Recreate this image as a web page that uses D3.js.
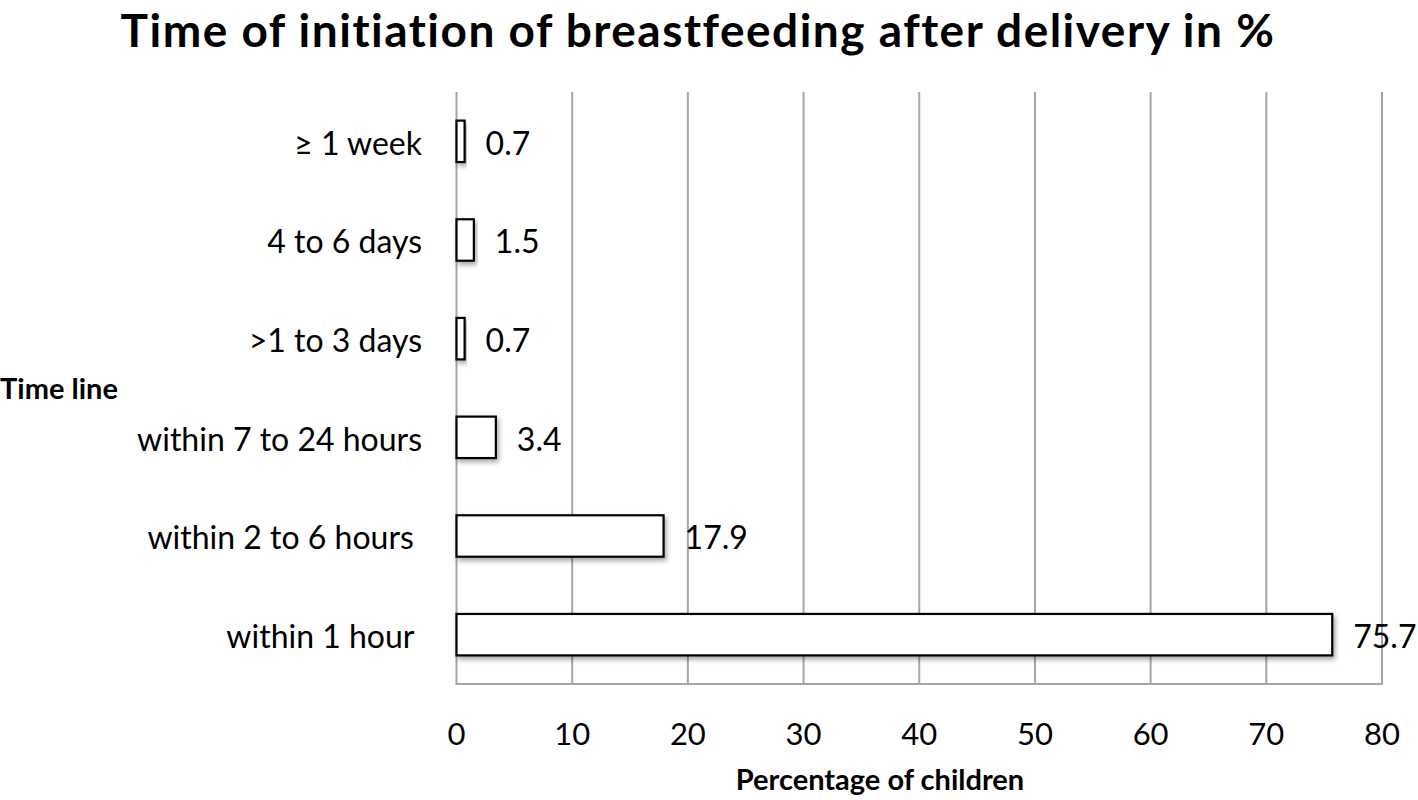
<!DOCTYPE html>
<html><head><meta charset="utf-8">
<script src="https://cdn.jsdelivr.net/npm/d3@7"></script>
<style>
body{margin:0;background:#fff;}
text{font-family:Lato,"Open Sans",sans-serif;white-space:pre;}
</style></head>
<body><svg id="c" width="1418" height="800"></svg>
<script>
const categories = ["within 1 hour ", "within 2 to 6 hours ", "within 7 to 24 hours", ">1 to 3 days", "4 to 6 days", "\u2265 1 week"];
const values = [75.7, 17.9, 3.4, 0.7, 1.5, 0.7];
const xTicks = [0, 10, 20, 30, 40, 50, 60, 70, 80];
const title = "Time of initiation of breastfeeding after delivery in %";
const xTitle = "Percentage of children";
const yTitle = "Time line";

const svg = d3.select("#c");
const L = 456.5, R = 1382, T = 92, B = 684;
const x = d3.scaleLinear().domain([0, 80]).range([L, R]);
const y = d3.scaleBand().domain(categories.slice().reverse()).range([T, B]).paddingInner(0.58).paddingOuter(0.29);

const defs = svg.append("defs");
const f = defs.append("filter").attr("id","sh").attr("x","-20%").attr("y","-20%").attr("width","140%").attr("height","160%");
f.append("feDropShadow").attr("dx",2).attr("dy",3).attr("stdDeviation",2.5).attr("flood-color","#000").attr("flood-opacity",0.35);

svg.append("text").attr("x", 698).attr("y", 47).attr("text-anchor","middle")
  .attr("font-weight","bold").attr("font-size",46).attr("letter-spacing",1.5).text(title);

// gridlines
svg.append("g").selectAll("line").data(xTicks).join("line")
  .attr("x1", d=>x(d)).attr("x2", d=>x(d)).attr("y1", T).attr("y2", B)
  .attr("stroke","#a6a6a6").attr("stroke-width",2);
svg.append("line").attr("x1",L-1).attr("x2",R+1).attr("y1",B).attr("y2",B).attr("stroke","#a6a6a6").attr("stroke-width",2);

// bars
svg.append("g").selectAll("rect").data(categories).join("rect")
  .attr("x", x(0)).attr("y", d=>y(d)).attr("width", (d,i)=>x(values[i])-x(0)).attr("height", y.bandwidth())
  .attr("fill","#fff").attr("stroke","#000").attr("stroke-width",2.2).attr("filter","url(#sh)");

// value labels
svg.append("g").selectAll("text").data(categories).join("text")
  .attr("x", (d,i)=>x(values[i]) + 21).attr("y", d=>y(d)+y.bandwidth()/2).attr("dy","0.42em")
  .attr("font-size",32).attr("fill","#000").text((d,i)=>values[i].toFixed(1));

// category labels
svg.append("g").selectAll("text").data(categories).join("text")
  .attr("x", 422).attr("y", d=>y(d)+y.bandwidth()/2).attr("dy","0.42em").attr("text-anchor","end")
  .attr("font-size",32).attr("fill","#000").text(d=>d);

// x tick labels
svg.append("g").selectAll("text").data(xTicks).join("text")
  .attr("x", d=>x(d)).attr("y", 745).attr("text-anchor","middle")
  .attr("font-size",31).attr("fill","#000").text(d=>d);

svg.append("text").attr("x", 880).attr("y", 790).attr("text-anchor","middle")
  .attr("font-weight","bold").attr("font-size",29).text(xTitle);
svg.append("text").attr("x", 0).attr("y", 399)
  .attr("font-weight","bold").attr("font-size",29).text(yTitle);
</script></body></html>
